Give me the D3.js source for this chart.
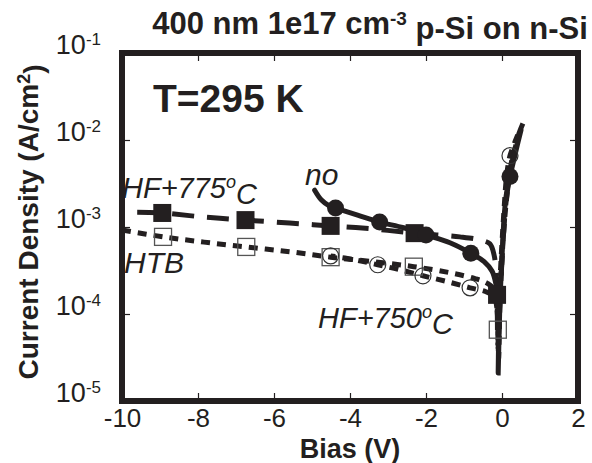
<!DOCTYPE html>
<html><head><meta charset="utf-8">
<script src="https://cdn.jsdelivr.net/npm/d3@7"></script>
<style>
body{margin:0;background:#fff}
svg{display:block}
text{font-family:"Liberation Sans",Arial,Helvetica,sans-serif;fill:#231f20}
</style>
</head><body>
<svg id="c" width="592" height="463"></svg>
<script>
// ---- tick labels ----
const xTicks = [-10, -8, -6, -4, -2, 0, 2];
const xTickLabels = ["-10", "-8", "-6", "-4", "-2", "0", "2"];
const yTicks = [1e-5, 1e-4, 1e-3, 1e-2, 1e-1];
const yTickExp = ["-5", "-4", "-3", "-2", "-1"];

// ---- series: no treatment (solid, filled circles) ----
const noLineV = [-4.93,-4.75,-4.54,-4.38,-3.80,-3.22,-2.59,-2.00,-1.37,-0.82,-0.47,-0.26,-0.16,-0.11,-0.09,-0.10,-0.08,-0.05,0.00,0.05,0.11,0.21,0.37,0.50];
const noLineJ = [2.65e-3,2.04e-3,1.74e-3,1.65e-3,1.37e-3,1.14e-3,9.8e-4,8.1e-4,6.6e-4,5.0e-4,4.0e-4,3.1e-4,2.2e-4,1.5e-4,6.6e-5,2.1e-5,5e-5,1.5e-4,4.5e-4,1.2e-3,2.3e-3,3.8e-3,7.6e-3,1.3e-2];
const noMarkV = [-4.38,-3.22,-2.00,-0.82,0.21];
const noMarkJ = [1.65e-3,1.14e-3,8.1e-4,5.0e-4,3.8e-3];

// ---- series: HF+775C (long dash, filled squares) ----
const hf775LineV = [-9.6,-8.94,-7.84,-6.75,-5.59,-4.51,-3.40,-2.30,-1.11,-0.58,-0.32,-0.21,-0.16,-0.13,-0.11,-0.06,0.03,0.11,0.21,0.34,0.45,0.55];
const hf775LineJ = [1.48e-3,1.45e-3,1.3e-3,1.2e-3,1.11e-3,1.03e-3,9.5e-4,8.5e-4,7.7e-4,7.1e-4,6.4e-4,4.8e-4,3.2e-4,1.66e-4,4.5e-5,1.3e-4,7e-4,2.0e-3,4.0e-3,8e-3,1.2e-2,1.55e-2];
const hf775MarkV = [-8.94,-6.75,-4.51,-2.30,-0.13];
const hf775MarkJ = [1.45e-3,1.2e-3,1.03e-3,8.5e-4,1.66e-4];

// ---- series: HTB (short dash, open squares) ----
const htbLineV = [-10,-8.92,-7.84,-6.73,-5.59,-4.51,-3.40,-2.32,-1.37,-0.71,-0.37,-0.21,-0.13,-0.10,-0.09,-0.05,0.03,0.13,0.26,0.42];
const htbLineJ = [9.25e-4,7.7e-4,6.7e-4,5.9e-4,5.2e-4,4.5e-4,4.0e-4,3.5e-4,2.98e-4,2.55e-4,2.23e-4,1.9e-4,1.12e-4,5.1e-5,3.0e-5,1.48e-4,7.1e-4,2.3e-3,5.9e-3,1.04e-2];
const htbMarkV = [-8.92,-6.73,-4.51,-2.32,-0.11];
const htbMarkJ = [7.7e-4,5.9e-4,4.5e-4,3.5e-4,6.6e-5];

// ---- series: HF+750C (short dash, open circles) ----
const hf750LineV = [-4.51,-3.88,-3.27,-2.69,-2.08,-1.45,-0.84,-0.42,-0.21,-0.13,-0.10,-0.06,0.05,0.13,0.21,0.34,0.45];
const hf750LineJ = [4.66e-4,4.2e-4,3.68e-4,3.23e-4,2.75e-4,2.36e-4,2.0e-4,1.8e-4,1.58e-4,1.12e-4,4e-5,2.0e-4,1.5e-3,4.2e-3,6.6e-3,9.5e-3,1.25e-2];
const hf750MarkV = [-4.51,-3.27,-2.08,-0.84,0.21];
const hf750MarkJ = [4.66e-4,3.68e-4,2.75e-4,2.0e-4,6.6e-3];

// ---- layout ----
const INK = "#231f20";
const L = 122, R = 578, T = 53, B = 401;
const svg = d3.select("#c");
const x = d3.scaleLinear().domain([-10, 2]).range([L, R]);
const y = d3.scaleLog().domain([1e-5, 1e-1]).range([B, T]);

const zip = (a, b) => a.map((v, i) => [v, b[i]]);
const line = d3.line().x(d => x(d[0])).y(d => y(d[1])).curve(d3.curveCatmullRom.alpha(0.5));

// axes (inner ticks on all sides)
const fmtNone = () => "";
svg.append("g").attr("transform", `translate(0,${B})`)
  .call(d3.axisBottom(x).tickValues(xTicks).tickSize(-8).tickFormat((d, i) => xTickLabels[i]))
  .call(g => {
    g.select(".domain").remove();
    g.selectAll("line").attr("stroke", INK).attr("stroke-width", 1.2);
    g.selectAll("text").attr("fill", INK).style("font-size", "26px").attr("dy", null).attr("y", 26);
  });
svg.append("g").attr("transform", `translate(0,${T})`)
  .call(d3.axisTop(x).tickValues(xTicks).tickSize(-8).tickFormat(fmtNone))
  .call(g => { g.select(".domain").remove(); g.selectAll("line").attr("stroke", INK).attr("stroke-width", 1.2); });
svg.append("g").attr("transform", `translate(${L},0)`)
  .call(d3.axisLeft(y).tickValues(yTicks).tickSize(-8).tickFormat(fmtNone))
  .call(g => {
    g.select(".domain").remove();
    g.selectAll("line").attr("stroke", INK).attr("stroke-width", 1.2);
    g.selectAll(".tick").each(function(d, i) {
      const t = d3.select(this).append("text")
        .attr("x", -21).attr("y", 0).attr("text-anchor", "end")
        .style("font-size", "27px").attr("fill", INK);
      t.append("tspan").text("10");
      t.append("tspan").attr("dy", "-0.5em").style("font-size", "17px").text(yTickExp[i]);
    });
  });
svg.append("g").attr("transform", `translate(${R},0)`)
  .call(d3.axisRight(y).tickValues(yTicks).tickSize(-8).tickFormat(fmtNone))
  .call(g => { g.select(".domain").remove(); g.selectAll("line").attr("stroke", INK).attr("stroke-width", 1.2); });

// frame
svg.append("rect").attr("x", L).attr("y", T).attr("width", R - L).attr("height", B - T)
  .attr("fill", "none").attr("stroke", INK).attr("stroke-width", 6);

// lines
const lw = 5;
svg.append("path").datum(zip(htbLineV, htbLineJ)).attr("d", line)
  .attr("fill", "none").attr("stroke", INK).attr("stroke-width", lw).attr("stroke-dasharray", "9,7");
svg.append("path").datum(zip(hf750LineV, hf750LineJ)).attr("d", line)
  .attr("fill", "none").attr("stroke", INK).attr("stroke-width", lw).attr("stroke-dasharray", "9,7").attr("stroke-dashoffset", 4);
svg.append("path").datum(zip(hf775LineV, hf775LineJ)).attr("d", line)
  .attr("fill", "none").attr("stroke", INK).attr("stroke-width", lw).attr("stroke-dasharray", "22,13");
svg.append("path").datum(zip(noLineV, noLineJ)).attr("d", line)
  .attr("fill", "none").attr("stroke", INK).attr("stroke-width", lw).attr("stroke-linecap", "round");

// markers
const sq = 18, osq = 17, r = 8.5;
svg.append("g").selectAll("rect").data(zip(hf775MarkV, hf775MarkJ)).join("rect")
  .attr("x", d => x(d[0]) - sq / 2).attr("y", d => y(d[1]) - sq / 2)
  .attr("width", sq).attr("height", sq).attr("fill", INK);
svg.append("g").selectAll("circle").data(zip(noMarkV, noMarkJ)).join("circle")
  .attr("cx", d => x(d[0])).attr("cy", d => y(d[1])).attr("r", r).attr("fill", INK);
svg.append("g").selectAll("rect").data(zip(htbMarkV, htbMarkJ)).join("rect")
  .attr("x", d => x(d[0]) - osq / 2).attr("y", d => y(d[1]) - osq / 2)
  .attr("width", osq).attr("height", osq).attr("fill", "none").attr("stroke", "#555").attr("stroke-width", 1.3);
svg.append("g").selectAll("circle").data(zip(hf750MarkV, hf750MarkJ)).join("circle")
  .attr("cx", d => x(d[0])).attr("cy", d => y(d[1])).attr("r", 8).attr("fill", "none").attr("stroke", "#333").attr("stroke-width", 1.2);

// title
const title = svg.append("text").attr("x", 370).attr("y", 34).attr("text-anchor", "middle")
  .style("font-size", "31px").style("font-weight", "bold");
title.append("tspan").text("400 nm 1e17 cm");
title.append("tspan").attr("dy", "-0.45em").style("font-size", "19px").text("-3");
title.append("tspan").attr("dy", "0.45em").text(" p-Si on n-Si");

// axis titles
svg.append("text").attr("x", 350).attr("y", 458).attr("text-anchor", "middle")
  .style("font-size", "27px").style("font-weight", "bold").text("Bias (V)");
const yl = svg.append("text").attr("transform", "translate(38,222) rotate(-90)").attr("text-anchor", "middle")
  .style("font-size", "28px").style("font-weight", "bold");
yl.append("tspan").text("Current Density (A/cm");
yl.append("tspan").attr("dy", "-0.45em").style("font-size", "18px").text("2");
yl.append("tspan").attr("dy", "0.45em").text(")");

// annotations
svg.append("text").attr("x", 153).attr("y", 112).style("font-size", "39px").style("font-weight", "bold").text("T=295 K");
const a1 = svg.append("text").attr("x", 122).attr("y", 198).style("font-size", "29px").style("font-style", "italic");
a1.append("tspan").text("HF+775");
a1.append("tspan").attr("dy", "-0.55em").style("font-size", "18px").text("o");
a1.append("tspan").attr("dy", "0.55em").text("C");
svg.append("text").attr("x", 305).attr("y", 185).style("font-size", "30px").style("font-style", "italic").text("no");
svg.append("text").attr("x", 124).attr("y", 273).style("font-size", "30px").style("font-style", "italic").text("HTB");
const a2 = svg.append("text").attr("x", 318).attr("y", 328).style("font-size", "29px").style("font-style", "italic");
a2.append("tspan").text("HF+750");
a2.append("tspan").attr("dy", "-0.55em").style("font-size", "18px").text("o");
a2.append("tspan").attr("dy", "0.55em").text("C");
</script>
</body></html>
